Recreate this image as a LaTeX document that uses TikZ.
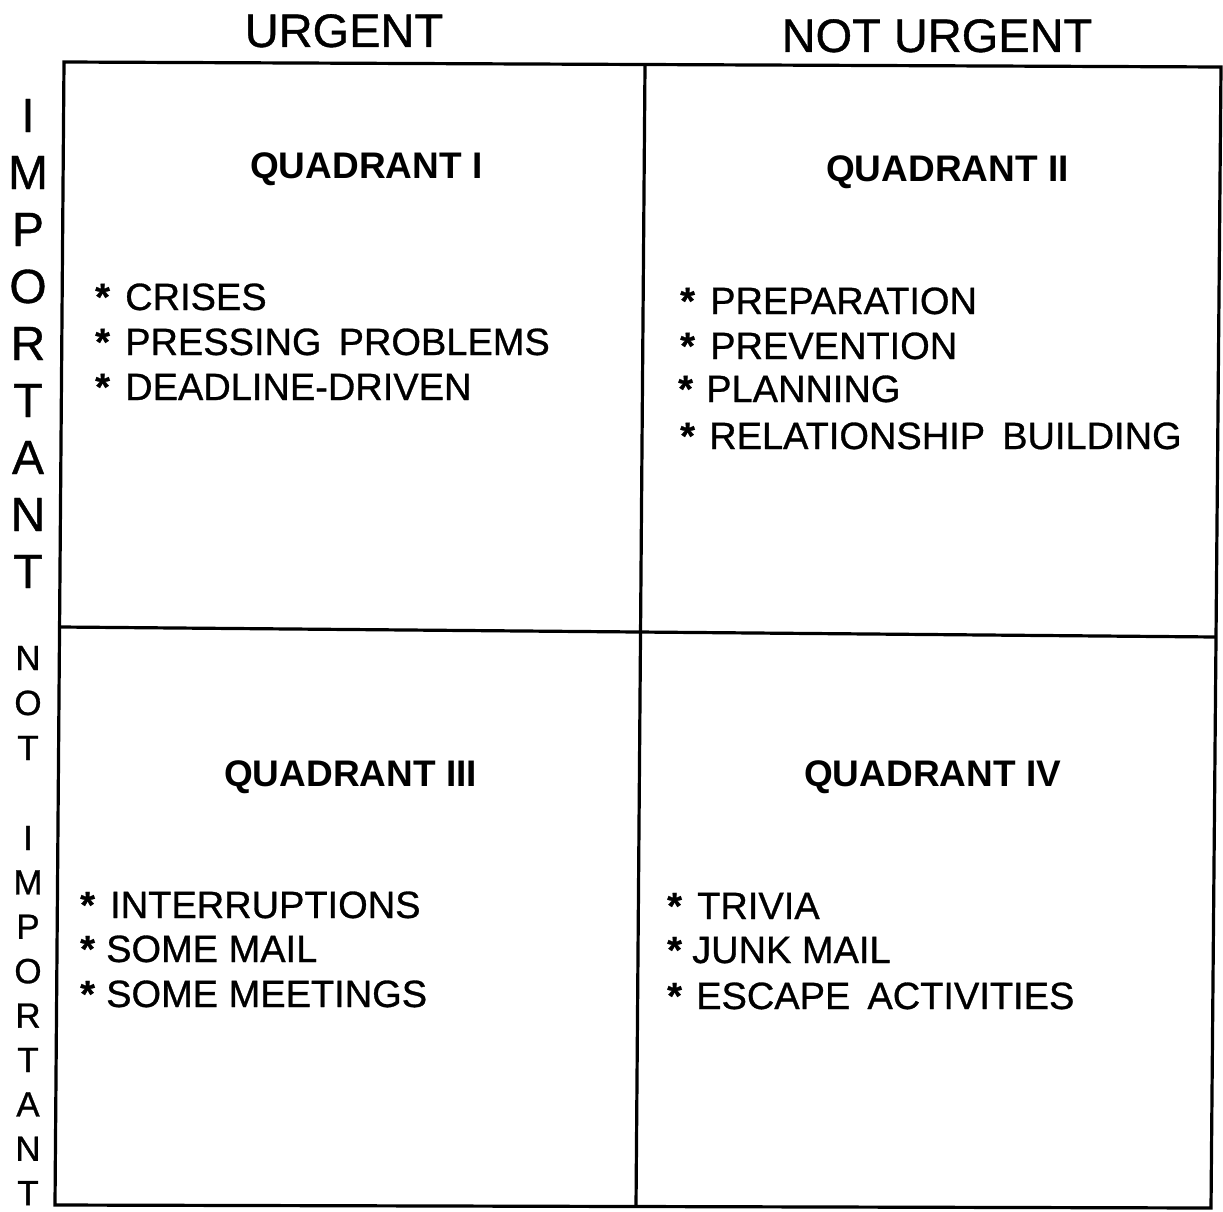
\documentclass[tikz,border=0pt]{standalone}
\usepackage{fontspec}
\setmainfont{Liberation Sans}
\newfontfamily\scanfont{Liberation Sans}[FakeBold=0.8]
\newfontfamily\starfont{Liberation Sans Bold}[FakeBold=0.6]
\begin{document}
\begin{tikzpicture}[x=1pt,y=-1pt,
  big/.style={font=\scanfont\fontsize{47}{50}\selectfont, inner sep=0pt, anchor=base},
  vbig/.style={font=\scanfont\fontsize{48}{50}\selectfont, inner sep=0pt, anchor=base},
  vsmall/.style={font=\scanfont\fontsize{35}{38}\selectfont, inner sep=0pt, anchor=base},
  qtitle/.style={font=\fontsize{37}{40}\selectfont\bfseries, inner sep=0pt, anchor=base west},
  item/.style={font=\scanfont\fontsize{38}{40}\selectfont, inner sep=0pt, anchor=base west},
  star/.style={font=\starfont\fontsize{38}{40}\selectfont, inner sep=0pt, anchor=base west},
  frame/.style={line width=3.2pt, line join=miter}]
\useasboundingbox (0,0) rectangle (1223,1212);
% frame
\coordinate (tl) at (64,62);
\coordinate (tr) at (1221,67);
\coordinate (br) at (1211,1208);
\coordinate (bl) at (55,1205);
\coordinate (vt) at (645,65);
\coordinate (vb) at (636,1207);
\coordinate (hl) at (60,627);
\coordinate (hr) at (1216,637);
\draw[frame] (tl) -- (tr) -- (br) -- (bl) -- cycle;
\draw[frame] (vt) -- (vb);
\draw[frame] (hl) -- (hr);
% column headers
\node[big] (urg) at (344,47) {URGENT};
\node[big] (nurg) at (937,52) {NOT URGENT};
% row labels
\foreach \l [count=\i from 0] in {I,M,P,O,R,T,A,N,T}{
  \node[vbig] (imp\i) at (28,{132+57*\i}) {\l};
}
\foreach \l [count=\i from 0] in {N,O,T}{
  \node[vsmall] (not\i) at (28,{670+45*\i}) {\l};
}
\foreach \l [count=\i from 0] in {I,M,P,O,R,T,A,N,T}{
  \node[vsmall] (nimp\i) at (28,{850+44.4*\i}) {\l};
}
% quadrant titles
\node[qtitle] (q1) at (250,178) {QUADRANT I};
\node[qtitle] (q2) at (826,181) {QUADRANT II};
\node[qtitle] (q3) at (224,786) {QUADRANT III};
\node[qtitle] (q4) at (804,786) {QUADRANT IV};
% quadrant I
\node[star] (s11) at (95,310) {*};
\node[item] (i11) at (125,310) {CRISES};
\node[star] (s12) at (95,355) {*};
\node[item] (i12) at (125,355) {PRESSING\hspace{0.45em}PROBLEMS};
\node[star] (s13) at (95,400) {*};
\node[item] (i13) at (125,400) {DEADLINE-DRIVEN};
% quadrant II
\node[star] (s21) at (680,314) {*};
\node[item] (i21) at (710,314) {PREPARATION};
\node[star] (s22) at (680,359) {*};
\node[item] (i22) at (710,359) {PREVENTION};
\node[star] (s23) at (678,402) {*};
\node[item] (i23) at (706,402) {PLANNING};
\node[star] (s24) at (680,449) {*};
\node[item] (i24) at (709,449) {RELATIONSHIP\hspace{0.45em}BUILDING};
% quadrant III
\node[star] (s31) at (80,918) {*};
\node[item] (i31) at (110,918) {INTERRUPTIONS};
\node[star] (s32) at (80,962) {*};
\node[item] (i32) at (106,962) {SOME MAIL};
\node[star] (s33) at (80,1007) {*};
\node[item] (i33) at (106,1007) {SOME MEETINGS};
% quadrant IV
\node[star] (s41) at (667,919) {*};
\node[item] (i41) at (697,919) {TRIVIA};
\node[star] (s42) at (667,963) {*};
\node[item] (i42) at (692,963) {JUNK MAIL};
\node[star] (s43) at (667,1009) {*};
\node[item] (i43) at (696,1009) {ESCAPE\hspace{0.45em}ACTIVITIES};
\end{tikzpicture}
\end{document}
